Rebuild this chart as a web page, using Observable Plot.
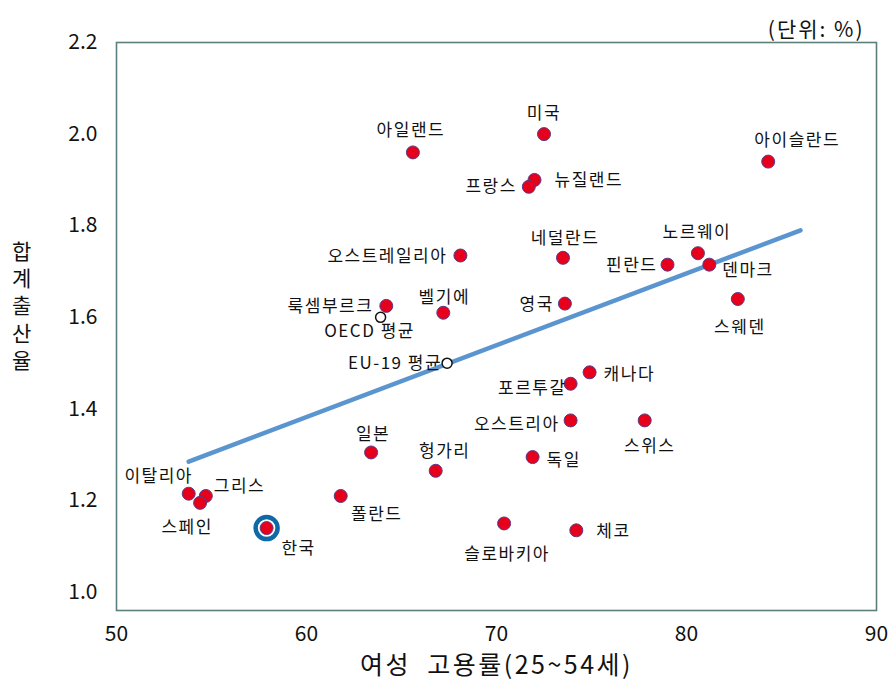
<!DOCTYPE html>
<html>
<head>
<meta charset="utf-8">
<script src="https://cdn.jsdelivr.net/npm/d3@7"></script>
<script src="https://cdn.jsdelivr.net/npm/@observablehq/plot@0.6"></script>
<style>
  html, body { margin: 0; padding: 0; background: #fff; }
  #chart svg { display: block; }
  #chart svg g[aria-label="x-axis tick label"] text,
  #chart svg g[aria-label="y-axis tick label"] text { letter-spacing: 0; }
</style>
</head>
<body>
<div id="chart"></div>
<script>
// Countries: female employment rate (25~54) vs total fertility rate
const countries = ["미국","아일랜드","아이슬란드","뉴질랜드","프랑스","네덜란드","노르웨이","오스트레일리아","핀란드","덴마크","스웨덴","영국","룩셈부르크","벨기에","캐나다","포르투갈","오스트리아","스위스","일본","독일","헝가리","이탈리아","그리스","스페인","폴란드","한국","슬로바키아","체코"];
const employment = [72.5,65.6,84.3,72.0,71.7,73.5,80.6,68.1,79.0,81.2,82.7,73.6,64.2,67.2,74.9,73.9,73.9,77.8,63.4,71.9,66.8,53.8,54.7,54.4,61.8,57.9,70.4,74.2];
const fertility = [2.00,1.96,1.94,1.90,1.885,1.73,1.74,1.735,1.715,1.715,1.64,1.63,1.625,1.61,1.48,1.455,1.375,1.375,1.305,1.295,1.265,1.215,1.21,1.195,1.21,1.14,1.15,1.135];

// Averages (open circles)
const avgNames = ["OECD 평균","EU-19 평균"];
const avgEmployment = [63.9,67.4];
const avgFertility = [1.60,1.50];

// Linear trend line endpoints
const trendX = [53.8, 86.0];
const trendY = [1.285, 1.79];

const xTicks = [50,60,70,80,90];
const yTicks = [1.0,1.2,1.4,1.6,1.8,2.0,2.2];

// Label placement (dx, dy, anchor) – layout only
const labelLayout = {
  "미국":[0,-21,"middle"],
  "아일랜드":[-2,-22,"middle"],
  "아이슬란드":[29,-21,"middle"],
  "뉴질랜드":[20,1,"start"],
  "프랑스":[-12,0,"end"],
  "네덜란드":[2,-19,"middle"],
  "노르웨이":[-1,-21,"middle"],
  "오스트레일리아":[-13,1,"end"],
  "핀란드":[-10,1,"end"],
  "덴마크":[13,6,"start"],
  "스웨덴":[2,29,"middle"],
  "영국":[-11,1,"end"],
  "룩셈부르크":[-13,1,"end"],
  "벨기에":[1,-15,"middle"],
  "캐나다":[14,2,"start"],
  "포르투갈":[-4,5,"end"],
  "오스트리아":[-11,4,"end"],
  "스위스":[5,26,"middle"],
  "일본":[2,-18,"middle"],
  "독일":[14,3,"start"],
  "헝가리":[9,-19,"middle"],
  "이탈리아":[-30,-17,"middle"],
  "그리스":[8,-9,"start"],
  "스페인":[-13,25,"middle"],
  "폴란드":[36,19,"middle"],
  "한국":[32,20,"middle"],
  "슬로바키아":[3,31,"middle"],
  "체코":[20,1,"start"],
  "OECD 평균":[-11,14,"middle"],
  "EU-19 평균":[-5,0,"end"]
};

const data = countries.map((c, i) => ({name: c, x: employment[i], y: fertility[i]}));
const avgData = avgNames.map((c, i) => ({name: c, x: avgEmployment[i], y: avgFertility[i]}));
const trend = trendX.map((x, i) => ({x, y: trendY[i]}));
const korea = data.filter(d => d.name === "한국");

const labelMarks = [...data, ...avgData].map(d => {
  const [dx, dy, anchor] = labelLayout[d.name];
  return Plot.text([d], {x: "x", y: "y", text: "name", dx, dy, textAnchor: anchor, fontSize: 17, fill: "#111"});
});

const font = "'Noto Sans CJK KR', 'Noto Sans', sans-serif";

const chart = Plot.plot({
  width: 888,
  height: 690,
  marginLeft: 116,
  marginRight: 12,
  marginTop: 42,
  marginBottom: 80,
  style: {fontFamily: font, fontSize: "21px", color: "#111", background: "#fff", letterSpacing: "1.5px"},
  x: {domain: [50, 90], ticks: xTicks, tickSize: 0, tickPadding: 16, label: null, tickFormat: d => String(d)},
  y: {domain: [0.96, 2.2], ticks: yTicks, tickSize: 0, tickPadding: 19, label: null, tickFormat: d => d.toFixed(1)},
  marks: [
    Plot.frame({stroke: "#5a7f7c", strokeWidth: 1.6}),
    Plot.line(trend, {x: "x", y: "y", stroke: "#5b95d0", strokeWidth: 4.5}),
    Plot.dot(korea, {x: "x", y: "y", r: 11, fill: "#fff", stroke: "#0f69a6", strokeWidth: 4.5}),
    Plot.dot(data, {x: "x", y: "y", r: 6.5, fill: "#e6001b", stroke: "#5b3b85", strokeWidth: 1}),
    Plot.dot(avgData, {x: "x", y: "y", r: 5, fill: "#fff", stroke: "#111", strokeWidth: 1.5}),
    ...labelMarks,
    Plot.text(["(단위: %)"], {frameAnchor: "top-right", dx: -12, dy: -20, textAnchor: "end", fontSize: 21, fill: "#111"}),
    Plot.text(["합\n계\n출\n산\n율"], {frameAnchor: "left", dx: -94, dy: -22, textAnchor: "middle", lineAnchor: "middle", lineHeight: 1.3, fontSize: 21, fill: "#111"}),
    Plot.text(["여성  고용률(25~54세)"], {frameAnchor: "bottom", dy: 55, textAnchor: "middle", lineAnchor: "middle", fontSize: 25, fill: "#111"})
  ]
});

// tracking for the unit note and x title, as in the reference
d3.select(chart).selectAll("text").filter(function() { return this.textContent === "(단위: %)"; }).style("letter-spacing", "2px");
d3.select(chart).selectAll("text").filter(function() { return this.textContent === "여성  고용률(25~54세)"; }).style("letter-spacing", "2.5px");

document.getElementById("chart").appendChild(chart);
</script>
</body>
</html>
